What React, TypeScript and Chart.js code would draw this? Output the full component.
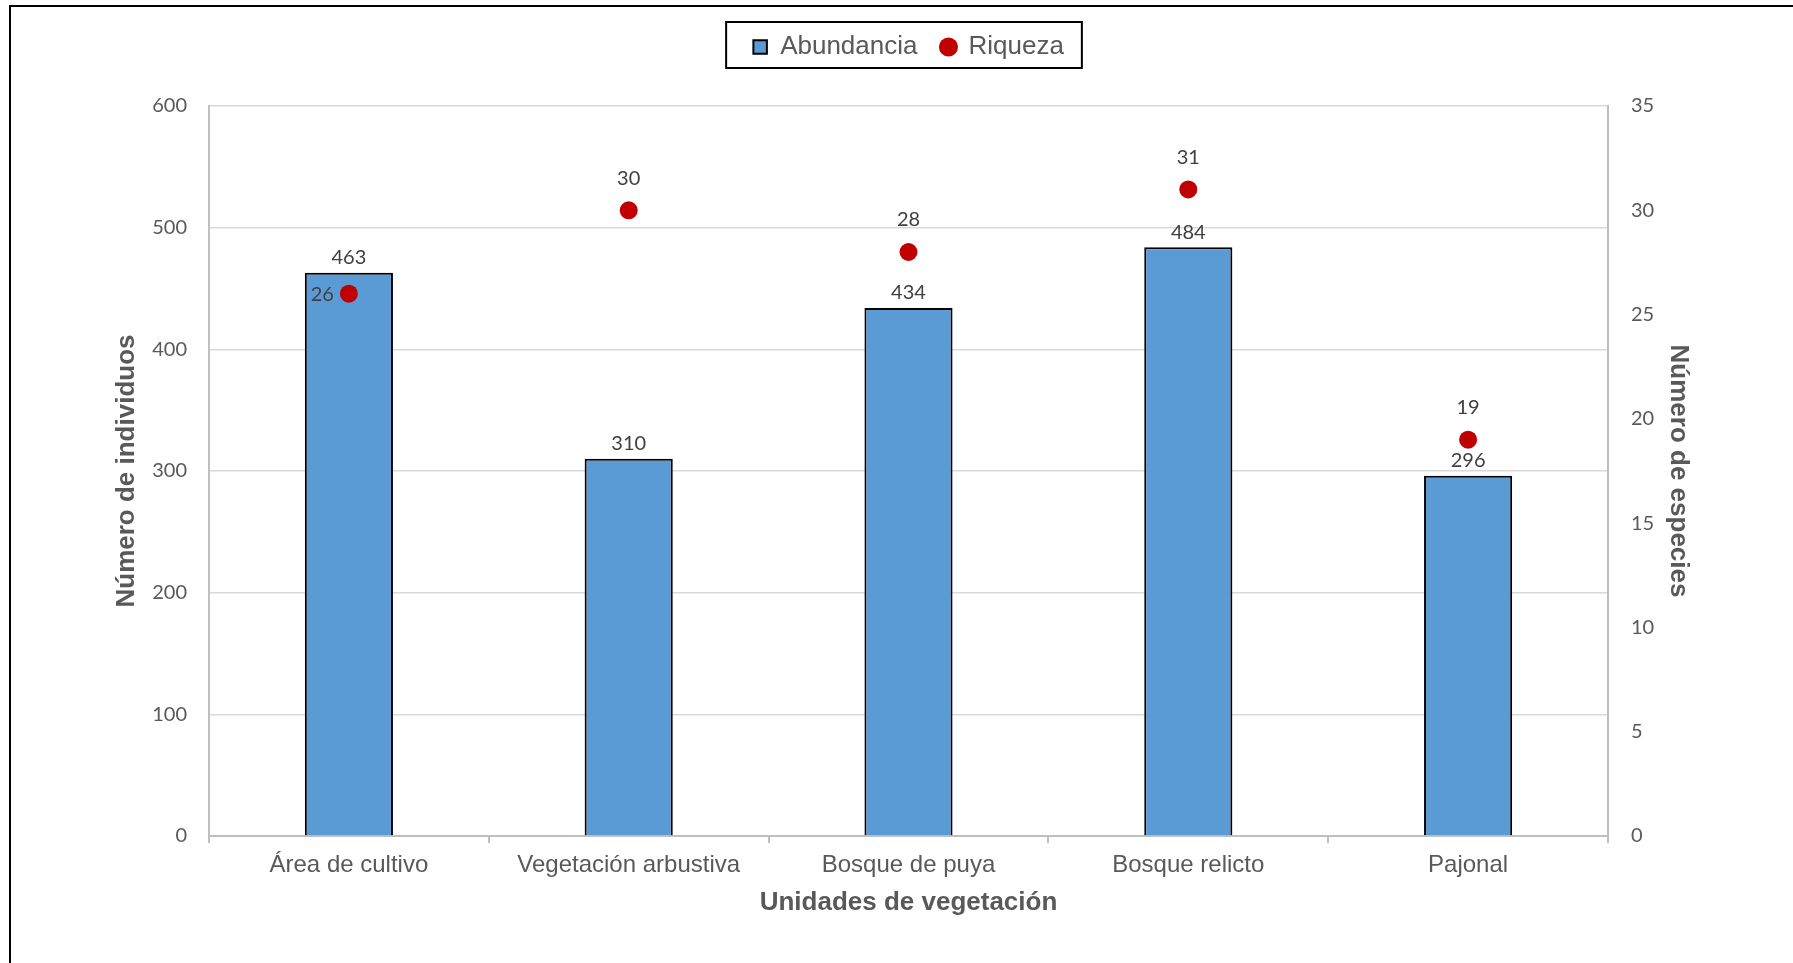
import React, { useEffect, useRef } from "react";
import { Chart, registerables } from "chart.js";

Chart.register(...registerables);

// Vegetation units on the category axis
const categories = [
  "Área de cultivo",
  "Vegetación arbustiva",
  "Bosque de puya",
  "Bosque relicto",
  "Pajonal",
];

// Number of individuals per unit (left axis)
const abundancia = [463, 310, 434, 484, 296];

// Number of species per unit (right axis)
const riqueza = [26, 30, 28, 31, 19];

// Where each species-count label sits relative to its point
const riquezaLabelSide = ["left", "top", "top", "top", "top"];

// Axis ranges
const leftAxisMax = 600;
const leftAxisStep = 100;
const rightAxisMax = 35;
const rightAxisStep = 5;

const SANS = "'Liberation Sans', Arial, sans-serif";
const NUM = "Lato, 'Open Sans', sans-serif";
const GREY_TEXT = "#595959";
const LABEL_TEXT = "#404040";
const AXIS_LINE = "#BFBFBF";
const GRID_LINE = "#D9D9D9";
const BAR_BLUE = "#5B9BD5";
const DOT_RED = "#C00000";

// Extra room between the legend and the plot
const legendGap = {
  id: "legendGap",
  beforeInit(chart: any) {
    const legend = chart.legend;
    if (!legend) return;
    const originalFit = legend.fit;
    legend.fit = function fit() {
      originalFit.bind(legend)();
      this.height += 36;
    };
  },
};

// Frame around the legend items
const legendFrame = {
  id: "legendFrame",
  afterDraw(chart: any) {
    const legend = chart.legend;
    if (!legend || !legend.legendHitBoxes || !legend.legendHitBoxes.length) return;
    const boxes = legend.legendHitBoxes;
    let left = Infinity;
    let right = -Infinity;
    for (const b of boxes) {
      left = Math.min(left, b.left);
      right = Math.max(right, b.left + b.width);
    }
    const midY = boxes[0].top + boxes[0].height / 2;
    const ctx = chart.ctx;
    ctx.save();
    ctx.strokeStyle = "#000000";
    ctx.lineWidth = 2;
    ctx.strokeRect(left - 27, midY - 25, right - left + 45, 46);
    ctx.restore();
  },
};

// Value labels for bars and points
const valueLabels = {
  id: "valueLabels",
  afterDatasetsDraw(chart: any) {
    const ctx = chart.ctx;
    ctx.save();
    ctx.font = `20px ${NUM}`;
    ctx.fillStyle = LABEL_TEXT;
    ctx.textBaseline = "middle";
    chart.data.datasets.forEach((ds: any, di: number) => {
      const meta = chart.getDatasetMeta(di);
      meta.data.forEach((el: any, i: number) => {
        const text = String(ds.data[i]);
        if (meta.type === "bar") {
          ctx.textAlign = "center";
          ctx.fillText(text, el.x, el.y - 15);
        } else {
          if (riquezaLabelSide[i] === "left") {
            ctx.textAlign = "right";
            ctx.fillText(text, el.x - 15, el.y + 1);
          } else {
            ctx.textAlign = "center";
            ctx.fillText(text, el.x, el.y - 32);
          }
        }
      });
    });
    ctx.restore();
  },
};

function VegetationChart() {
  const canvasRef = useRef<HTMLCanvasElement | null>(null);

  useEffect(() => {
    if (!canvasRef.current) return;
    const chart = new Chart(canvasRef.current, {
      data: {
        labels: categories,
        datasets: [
          {
            type: "bar",
            label: "Abundancia",
            data: abundancia,
            backgroundColor: BAR_BLUE,
            borderColor: "#000000",
            borderWidth: 2,
            categoryPercentage: 1,
            barPercentage: 0.315,
            yAxisID: "y",
            order: 2,
            pointStyle: "rect",
          } as any,
          {
            type: "line",
            label: "Riqueza",
            data: riqueza,
            showLine: false,
            backgroundColor: DOT_RED,
            borderColor: DOT_RED,
            pointBackgroundColor: DOT_RED,
            pointBorderColor: DOT_RED,
            pointRadius: 9,
            pointHoverRadius: 9,
            pointBorderWidth: 0,
            borderWidth: 0,
            pointStyle: "circle",
            yAxisID: "y1",
            order: 1,
          } as any,
        ],
      },
      options: {
        responsive: false,
        animation: false,
        events: [],
        layout: {
          padding: { top: 10, left: 100, right: 99, bottom: 45 },
        },
        plugins: {
          tooltip: { enabled: false },
          legend: {
            display: true,
            position: "top",
            fullSize: false,
            labels: {
              usePointStyle: true,
              boxWidth: 14,
              boxHeight: 13.5,
              padding: 24,
              color: GREY_TEXT,
              font: { family: SANS, size: 26 },
              sort: (a: any, b: any) => a.datasetIndex - b.datasetIndex,
            },
          },
        },
        scales: {
          x: {
            type: "category",
            offset: true,
            grid: {
              offset: true,
              drawOnChartArea: false,
              drawTicks: true,
              tickLength: 7,
              color: AXIS_LINE,
              lineWidth: 2,
            },
            border: { display: true, color: AXIS_LINE, width: 2 },
            ticks: {
              color: GREY_TEXT,
              font: { family: SANS, size: 24 },
              padding: 8,
              maxRotation: 0,
              autoSkip: false,
            },
            title: {
              display: true,
              text: "Unidades de vegetación",
              color: GREY_TEXT,
              font: { family: SANS, size: 26, weight: "bold" },
              padding: 0,
            },
            afterFit: (s: any) => {
              s.height = 82;
            },
          },
          y: {
            type: "linear",
            position: "left",
            min: 0,
            max: leftAxisMax,
            grid: {
              color: GRID_LINE,
              lineWidth: 1.5,
              drawTicks: false,
            },
            border: { display: true, color: AXIS_LINE, width: 2 },
            ticks: {
              stepSize: leftAxisStep,
              color: GREY_TEXT,
              font: { family: NUM, size: 20 },
              padding: 22,
            },
            title: {
              display: true,
              text: "Número de individuos",
              color: GREY_TEXT,
              font: { family: SANS, size: 26, weight: "bold" },
              padding: 0,
            },
            afterFit: (s: any) => {
              s.width = 98;
            },
          },
          y1: {
            type: "linear",
            position: "right",
            min: 0,
            max: rightAxisMax,
            grid: { drawOnChartArea: false, drawTicks: false },
            border: { display: true, color: AXIS_LINE, width: 2 },
            ticks: {
              stepSize: rightAxisStep,
              color: GREY_TEXT,
              font: { family: NUM, size: 20 },
              padding: 23,
            },
            title: {
              display: true,
              text: "Número de especies",
              color: GREY_TEXT,
              font: { family: SANS, size: 26, weight: "bold" },
              padding: 0,
            },
            afterFit: (s: any) => {
              s.width = 86;
            },
          },
        },
      } as any,
      plugins: [legendGap, legendFrame, valueLabels],
    });
    return () => chart.destroy();
  }, []);

  return (
    <>
      <div
        style={{
          position: "absolute",
          left: 11,
          top: 0,
          width: 1782,
          height: 963,
          background: "#ffffff",
        }}
      >
        <canvas ref={canvasRef} width={1782} height={963} style={{ display: "block" }} />
      </div>
      <div
        style={{
          position: "absolute",
          left: 9,
          top: 5,
          width: 1784,
          height: 958,
          boxSizing: "border-box",
          borderTop: "2px solid #000",
          borderLeft: "2px solid #000",
          pointerEvents: "none",
        }}
      />
    </>
  );
}

export default function App() {
  return <VegetationChart />;
}
